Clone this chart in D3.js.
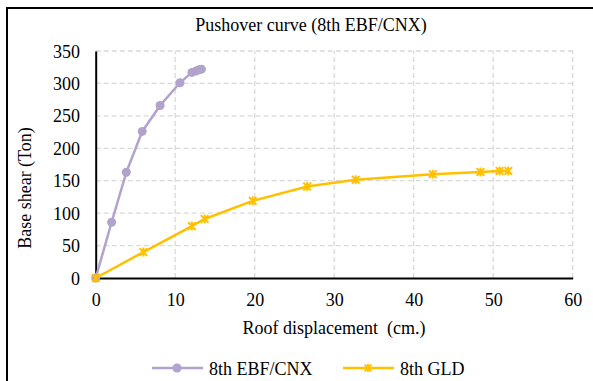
<!DOCTYPE html>
<html>
<head>
<meta charset="utf-8">
<script src="https://cdn.jsdelivr.net/npm/d3@7"></script>
<style>
  html, body { margin: 0; padding: 0; background: #fff; }
  svg { display: block; }
  svg text { font-family: "Liberation Serif", "Times New Roman", serif !important; fill: #000; }
</style>
</head>
<body>
<svg id="chart" width="593" height="381"></svg>
<script>
// Pushover curve data: roof displacement (cm.) vs. base shear (Ton)
const ebfDisp  = [0, 2.0, 3.85, 5.85, 8.1, 10.6, 12.1, 12.6, 13.0, 13.3];
const ebfShear = [0, 86, 163, 226, 266, 301, 317, 319, 321, 322];

const gldDisp  = [0, 6.0, 12.1, 13.7, 19.75, 26.6, 32.7, 42.4, 48.4, 50.8, 51.9];
const gldShear = [0, 40, 80, 91, 119, 141, 151.5, 160, 163.5, 165, 165];

const xTicks = [0, 10, 20, 30, 40, 50, 60];
const yTicks = [0, 50, 100, 150, 200, 250, 300, 350];

const seriesNames  = ["8th EBF/CNX", "8th GLD"];
const seriesColors = ["#B1A3CB", "#FFC000"];

const serif = "'Liberation Serif', 'Times New Roman', serif";
const svg = d3.select("#chart");

// outer frame
svg.append("path")
  .attr("d", "M7,381 V8 H593")
  .attr("fill", "none")
  .attr("stroke", "#000")
  .attr("stroke-width", 2);

const x = d3.scaleLinear().domain([0, 60]).range([95.7, 572.7]);
const y = d3.scaleLinear().domain([0, 350]).range([278, 51]);

// gridlines
const grid = svg.append("g").attr("stroke", "#D9D9D9").attr("stroke-width", 1.3)
  .attr("stroke-dasharray", "5,3");
grid.selectAll("line.h").data(yTicks.filter(d => d > 0)).join("line")
  .attr("x1", x(0)).attr("x2", x(60))
  .attr("y1", d => y(d)).attr("y2", d => y(d));
grid.selectAll("line.v").data(xTicks.filter(d => d > 0)).join("line")
  .attr("x1", d => x(d)).attr("x2", d => x(d))
  .attr("y1", y(0)).attr("y2", y(350));

// axes
const xAxis = svg.append("g").attr("transform", `translate(0,${y(0)})`)
  .call(d3.axisBottom(x).tickValues(xTicks).tickSize(0).tickPadding(0))
  .attr("font-family", serif).attr("font-size", 18);
xAxis.select(".domain").attr("stroke", "#000").attr("stroke-width", 2);
xAxis.selectAll("text").style("font-family", serif).style("font-size", "18px")
  .attr("dy", null).attr("y", 28);

const yAxis = svg.append("g").attr("transform", `translate(${x(0)},0)`)
  .call(d3.axisLeft(y).tickValues(yTicks).tickSize(0).tickPadding(0))
  .attr("font-family", serif).attr("font-size", 18);
yAxis.select(".domain").attr("stroke", "#000").attr("stroke-width", 2);
yAxis.selectAll("text").style("font-family", serif).style("font-size", "18px")
  .attr("dy", null).attr("y", 6).attr("x", -15.7);

// titles
svg.append("text").attr("x", 311).attr("y", 31).attr("text-anchor", "middle")
  .attr("font-size", 18).text("Pushover curve (8th EBF/CNX)");
svg.append("text").attr("x", 334).attr("y", 334).attr("text-anchor", "middle")
  .attr("font-size", 18).attr("xml:space", "preserve").text("Roof displacement  (cm.)");
svg.append("text").attr("transform", "translate(31,188) rotate(-90)")
  .attr("text-anchor", "middle").attr("font-size", 18).text("Base shear (Ton)");

// series
const line = d3.line().x(d => x(d[0])).y(d => y(d[1]));
const ebf = ebfDisp.map((d, i) => [d, ebfShear[i]]);
const gld = gldDisp.map((d, i) => [d, gldShear[i]]);

// asterisk-style marker: an X crossed by a vertical stroke
function starPath(s) {
  const a = s * 0.85;
  return `M${-a},${-a}L${a},${a}M${-a},${a}L${a},${-a}M0,${-s}L0,${s}`;
}

svg.append("path").datum(ebf).attr("d", line).attr("fill", "none")
  .attr("stroke", seriesColors[0]).attr("stroke-width", 2.5);
svg.append("g").selectAll("circle").data(ebf).join("circle")
  .attr("cx", d => x(d[0])).attr("cy", d => y(d[1])).attr("r", 4.5)
  .attr("fill", seriesColors[0]);

svg.append("path").datum(gld).attr("d", line).attr("fill", "none")
  .attr("stroke", seriesColors[1]).attr("stroke-width", 2.5);
svg.append("g").selectAll("path").data(gld).join("path")
  .attr("transform", d => `translate(${x(d[0])},${y(d[1])})`)
  .attr("d", starPath(4.5)).attr("fill", "none")
  .attr("stroke", seriesColors[1]).attr("stroke-width", 2);

// legend
const legend = svg.append("g");
const legItems = [
  { name: seriesNames[0], color: seriesColors[0], x0: 152, kind: "circle" },
  { name: seriesNames[1], color: seriesColors[1], x0: 343, kind: "star" }
];
legItems.forEach(it => {
  const g = legend.append("g").attr("transform", `translate(${it.x0},368)`);
  g.append("line").attr("x1", 0).attr("x2", 51).attr("stroke", it.color).attr("stroke-width", 2.5);
  if (it.kind === "circle") {
    g.append("circle").attr("cx", 25).attr("r", 4.5).attr("fill", it.color);
  } else {
    g.append("path").attr("transform", "translate(25,0)").attr("d", starPath(4))
      .attr("fill", "none").attr("stroke", it.color).attr("stroke-width", 2);
  }
  g.append("text").attr("x", 57).attr("y", 7).attr("font-size", 18).text(it.name);
});
</script>
</body>
</html>
